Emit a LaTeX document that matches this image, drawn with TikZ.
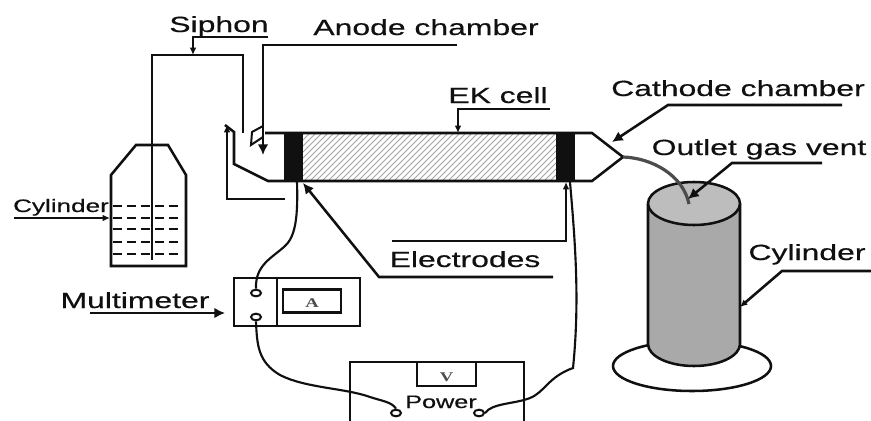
\documentclass[tikz,border=0pt]{standalone}
\usepackage{fontspec}
\setmainfont{Liberation Sans}
\newfontfamily\labfont{Liberation Sans}[FakeBold=0.35]
\newfontfamily\serifmeter{Liberation Serif}
\usetikzlibrary{arrows.meta,shapes.geometric}
\definecolor{sidegray}{HTML}{A9A9A9}
\definecolor{topgray}{HTML}{BDBDBD}
\definecolor{hatchgray}{HTML}{A4A4A4}
\definecolor{ink}{HTML}{101010}
\tikzset{
  line/.style={draw=ink,line width=1.9pt,line join=miter},
  thin line/.style={draw=ink,line width=1.5pt},
  big tip/.style={-{Latex[length=8pt,width=8pt]}},
  small tip/.style={-{Latex[length=5.5pt,width=5pt]}},
  lab/.style={anchor=base,inner sep=0pt,text=ink,font=\labfont\fontsize{16.5}{18}\selectfont},
  small lab/.style={anchor=base,inner sep=0pt,text=ink,font=\labfont\fontsize{13.5}{15}\selectfont},
  meter lab/.style={anchor=base,inner sep=0pt,text=ink!75,font=\serifmeter\bfseries\fontsize{10}{12}\selectfont},
  terminal/.style={draw=ink,line width=1.5pt,ellipse,fill=white,minimum width=7.5pt,minimum height=5pt,inner sep=0pt},
  wire/.style={draw=ink,line width=1.6pt},
}
\newcommand{\wide}[1]{\scalebox{1.45}[1]{#1}}
\begin{document}
\begin{tikzpicture}[x=0.75pt,y=-0.75pt]
\useasboundingbox (0,0) rectangle (871,421);
\fill[white] (0,0) rectangle (871,421);

% named points
\coordinate (sipL) at (193,37);  \coordinate (sipR) at (268,37);
\coordinate (sipT) at (193,55);
\coordinate (anoR) at (457,45);  \coordinate (anoL) at (263,45);  \coordinate (anoT) at (263,155);
\coordinate (ekR) at (550,109);  \coordinate (ekL) at (458,109);  \coordinate (ekT) at (458,133);
\coordinate (catR) at (842,105); \coordinate (catL) at (668,105); \coordinate (catT) at (612,142);
\coordinate (outR) at (822,163); \coordinate (outL) at (732,163); \coordinate (outT) at (688,199);
\coordinate (cylR) at (871,271); \coordinate (cylL) at (782,271); \coordinate (cylT) at (740,307);
\coordinate (eluL) at (392,241); \coordinate (eluC) at (566,241); \coordinate (eluT) at (566,182);
\coordinate (ellR) at (553,277); \coordinate (ellL) at (379,277); \coordinate (ellT) at (303,183);
\coordinate (mulL) at (90,313);  \coordinate (mulT) at (225,313);
\coordinate (scyL) at (14,218);  \coordinate (scyT) at (110,218);
\coordinate (retE) at (285,199); \coordinate (retC) at (227,199); \coordinate (retT) at (227,125);
\coordinate (tip) at (623,157);
\coordinate (vent) at (689,204);

% siphon tube
\draw[line] (152,260) -- (152,55) -- (243,55) -- (243,133);

% small cylinder
\draw[line] (111,266) -- (111,175) -- (136,145) -- (168,145) -- (186,175) -- (186,266) -- cycle;
\foreach \y in {206,218,229,242,254}
  \draw[draw=ink,line width=1.3pt,dash pattern=on 7pt off 3.5pt] (113,\y) -- (181,\y);

% EK cell
\begin{scope}
  \clip (303,133) rectangle (556,181);
  \foreach \i in {0,6,...,320}
    \draw[hatchgray,line width=0.7pt] (250+\i,181) -- (298+\i,133);
\end{scope}
\fill[ink] (284,133) rectangle (303,181);
\fill[ink] (556,133) rectangle (575,181);
\draw[line] (265,133) -- (592,133) -- (tip) -- (592,181) -- (268,181) -- (234,164) -- (234,132) -- (225,125);
\draw[line,line width=1.5pt] (263,126) -- (252,132) -- (251,145) -- (263,137);

% big cylinder
\draw[line] (692,366) ellipse [x radius=79,y radius=25];
\fill[sidegray] (648,204) -- (648,344) arc[start angle=180,end angle=0,x radius=46,y radius=22] -- (740,204) -- cycle;
\draw[line] (648,204) -- (648,344) arc[start angle=180,end angle=0,x radius=46,y radius=22] -- (740,204);
\draw[line,fill=topgray] (694,203.5) ellipse [x radius=46,y radius=21.5];

% outlet tube
\draw[draw=ink!75,line width=2.4pt] (tip) .. controls (652,158) and (683,175) .. (vent);

% labels
\node[lab] (siphon) at (219,32) {\wide{Siphon}};
\node[lab] (anode) at (426,35) {\wide{Anode chamber}};
\node[lab] (ek) at (498,103) {\wide{EK cell}};
\node[lab] (cathode) at (738,96) {\wide{Cathode chamber}};
\node[lab] (outlet) at (759,155) {\wide{Outlet gas vent}};
\node[lab] (cylbig) at (807,260) {\wide{Cylinder}};
\node[lab] (electrodes) at (465,267) {\wide{Electrodes}};
\node[lab] (multi) at (135,308) {\wide{Multimeter}};
\node[small lab] (cylsmall) at (61,212) {\wide{Cylinder}};

% leaders
\draw[thin line,small tip] (sipR) -- (sipL) -- (sipT);
\draw[line,big tip] (anoR) -- (anoL) -- (anoT);
\draw[thin line,small tip] (ekR) -- (ekL) -- (ekT);
\draw[line,big tip] (catR) -- (catL) -- (catT);
\draw[line,big tip] (outR) -- (outL) -- (outT);
\draw[line,small tip] (cylR) -- (cylL) -- (cylT);
\draw[line,small tip] (eluL) -- (eluC) -- (eluT);
\draw[line,big tip] (ellR) -- (ellL) -- (ellT);
\draw[thin line,big tip] (mulL) -- (mulT);
\draw[thin line,small tip] (scyL) -- (scyT);
\draw[line,small tip] (retE) -- (retC) -- (retT);

% multimeter
\draw[line] (234,278) rectangle (360,326);
\draw[line] (277,278) -- (277,326);
\node[draw=ink,line width=1.9pt,minimum width=43.5pt,minimum height=17.5pt,inner sep=0pt] (abox) at (312,301) {};
\node[meter lab] (alabel) at (312,307) {\scalebox{1.4}[1]{A}};
\node[terminal] (t1) at (256,293) {};
\node[terminal] (t2) at (256,317) {};

% power
\draw[line] (350,421) -- (350,362) -- (524,362) -- (524,421);
\node[draw=ink,line width=1.9pt,minimum width=44pt,minimum height=18pt,inner sep=0pt] (vbox) at (446.5,374) {};
\node[meter lab] (vlabel) at (446.5,381) {\scalebox{1.4}[1]{V}};
\node[small lab] (power) at (441,408) {\scalebox{1.4}[1]{Power}};
\node[terminal] (t3) at (396,413) {};
\node[terminal] (t4) at (479,413) {};
\coordinate (e1) at (297,182);
\coordinate (e2) at (570,182);

% wires
\draw[wire] (e1) .. controls (298,215) and (296,236) .. (285,246)
            .. controls (272,258) and (255,265) .. (t1.north);
\draw[wire] (t2.south) .. controls (257,345) and (258,362) .. (280,375)
            .. controls (305,388) and (345,388) .. (370,397)
            .. controls (382,401) and (392,402) .. (t3.north);
\draw[wire] (t4.east) .. controls (492,403) and (515,404) .. (530,398)
            .. controls (545,392) and (548,377) .. (573,368)
            .. controls (580,300) and (575,240) .. (e2);
\end{tikzpicture}
\end{document}
